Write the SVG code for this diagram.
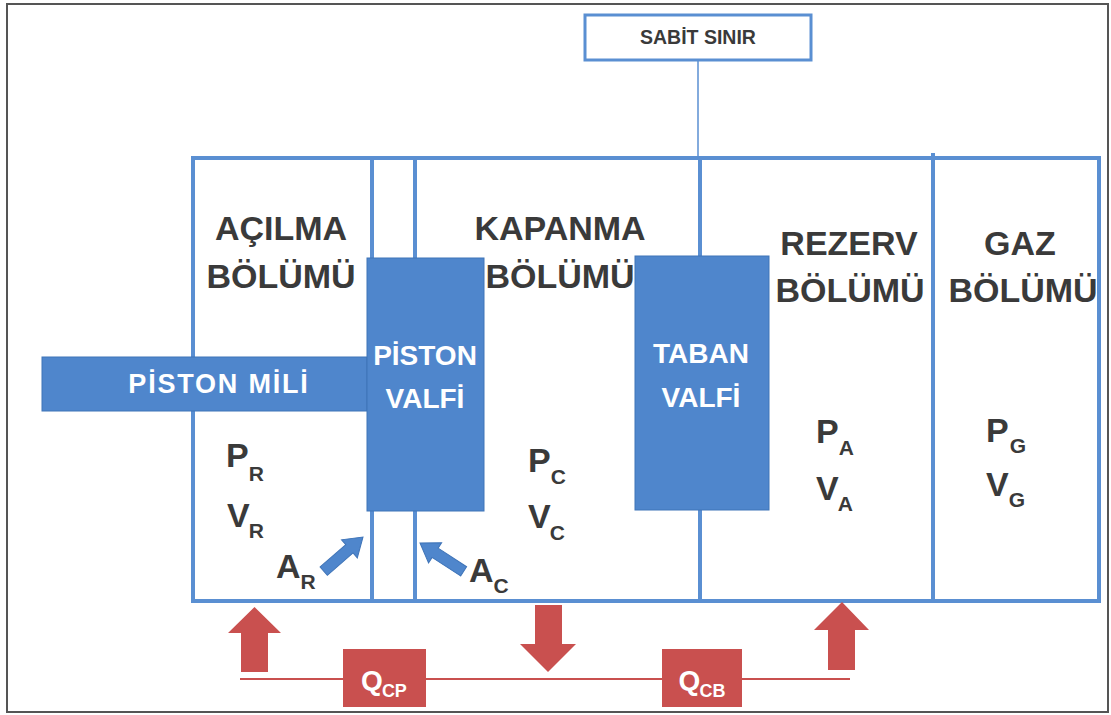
<svg xmlns="http://www.w3.org/2000/svg" width="1111" height="715" viewBox="0 0 1111 715">
  <style>
    .wall { fill: none; stroke: #5a8fd2; stroke-width: 4; }
    .solid { fill: #4f86cc; stroke: #3f74b8; stroke-width: 1; }
    .lbl { font-family: "Liberation Sans", Arial, sans-serif; font-weight: bold; fill: #3a3a3a; }
    .big { font-size: 34px; text-anchor: middle; }
    .var { font-size: 34px; }
    .sub { font-size: 21px; }
    .wht { font-family: "Liberation Sans", Arial, sans-serif; font-weight: bold; fill: #ffffff; text-anchor: middle; }
    .flow { fill: #c9504f; }
    .pipe { stroke: #c9504f; stroke-width: 2; fill: none; }
    .barrow { fill: #4f86cc; stroke: #3f74b8; stroke-width: 1; }
  </style>
  <defs>
    <!-- block arrow pointing along +x, tip at origin -->
    <polygon id="blockArrow" points="-52,-5.5 -18,-5.5 -18,-12 0,0 -18,12 -18,5.5 -52,5.5"/>
  </defs>

  <rect x="0" y="0" width="1111" height="715" fill="#ffffff"/>
  <!-- page frame -->
  <rect x="7" y="4" width="1101" height="708" fill="none" stroke="#555555" stroke-width="2"/>

  <!-- damper housing and chamber walls -->
  <g id="housing">
    <rect class="wall" x="193" y="158" width="906" height="443"/>
    <line class="wall" x1="372" y1="158" x2="372" y2="601"/>
    <line class="wall" x1="415" y1="158" x2="415" y2="601"/>
    <line class="wall" x1="700" y1="158" x2="700" y2="601"/>
    <line class="wall" x1="933" y1="153" x2="933" y2="601"/>
  </g>

  <!-- fixed boundary label -->
  <g id="sabit-sinir">
    <line x1="698" y1="61" x2="698" y2="158" stroke="#5a8fd2" stroke-width="1.5"/>
    <rect x="585" y="15" width="226" height="45" fill="#ffffff" stroke="#5a8fd2" stroke-width="3"/>
    <text class="lbl" x="698" y="44" font-size="19.5" text-anchor="middle">SABİT SINIR</text>
  </g>

  <!-- chamber titles -->
  <g id="acilma-bolumu">
    <text class="lbl big" x="281" y="240">AÇILMA</text>
    <text class="lbl big" x="281" y="288">BÖLÜMÜ</text>
  </g>
  <g id="kapanma-bolumu">
    <text class="lbl big" x="560" y="240">KAPANMA</text>
    <text class="lbl big" x="560" y="288">BÖLÜMÜ</text>
  </g>
  <g id="rezerv-bolumu">
    <text class="lbl big" x="849" y="255">REZERV</text>
    <text class="lbl big" x="850" y="302">BÖLÜMÜ</text>
  </g>
  <g id="gaz-bolumu">
    <text class="lbl big" x="1020" y="255">GAZ</text>
    <text class="lbl big" x="1023" y="302">BÖLÜMÜ</text>
  </g>

  <!-- piston rod -->
  <g id="piston-mili">
    <rect class="solid" x="42" y="357" width="325" height="54"/>
    <text class="wht" x="219" y="393" font-size="27" letter-spacing="1.8">PİSTON MİLİ</text>
  </g>

  <!-- piston valve -->
  <g id="piston-valfi">
    <rect class="solid" x="367" y="258" width="117" height="253"/>
    <text class="wht" x="425" y="365" font-size="28">PİSTON</text>
    <text class="wht" x="425" y="408" font-size="28">VALFİ</text>
  </g>

  <!-- base valve -->
  <g id="taban-valfi">
    <rect class="solid" x="635" y="256" width="134" height="254"/>
    <text class="wht" x="701" y="363" font-size="28">TABAN</text>
    <text class="wht" x="701" y="407" font-size="28">VALFİ</text>
  </g>

  <!-- state variables -->
  <g id="degiskenler">
    <text class="lbl var" x="226" y="467">P<tspan class="sub" dx="0" dy="14">R</tspan></text>
    <text class="lbl var" x="227" y="527">V<tspan class="sub" dx="-1" dy="11">R</tspan></text>
    <text class="lbl var" x="276" y="578">A<tspan class="sub" dx="0" dy="11">R</tspan></text>
    <text class="lbl var" x="528" y="472">P<tspan class="sub" dx="0" dy="12">C</tspan></text>
    <text class="lbl var" x="528" y="528">V<tspan class="sub" dx="-1" dy="12">C</tspan></text>
    <text class="lbl var" x="469" y="582">A<tspan class="sub" dx="0" dy="11">C</tspan></text>
    <text class="lbl var" x="816" y="443">P<tspan class="sub" dx="0" dy="12">A</tspan></text>
    <text class="lbl var" x="816" y="500">V<tspan class="sub" dx="-1" dy="11">A</tspan></text>
    <text class="lbl var" x="986" y="442">P<tspan class="sub" dx="1" dy="11">G</tspan></text>
    <text class="lbl var" x="986" y="496">V<tspan class="sub" dx="0" dy="11">G</tspan></text>
  </g>

  <!-- connectors: area pointers and flow arrows -->
  <g id="connectors">
    <use href="#blockArrow" class="barrow" transform="translate(363,537) rotate(-41)"/>
    <use href="#blockArrow" class="barrow" transform="translate(420,543) rotate(-147)"/>

    <line class="pipe" x1="240" y1="679" x2="343" y2="679"/>
    <line class="pipe" x1="426" y1="679" x2="662" y2="679"/>
    <line class="pipe" x1="742" y1="679" x2="850" y2="679"/>

    <polygon class="flow" points="241,672 241,633 228,633 254.5,607 281,633 268,633 268,672"/>
    <polygon class="flow" points="535,605 562,605 562,644 576,644 548,672 520,644 535,644"/>
    <polygon class="flow" points="828,670 828,630 814,630 842,602 869,630 855,630 855,670"/>
  </g>

  <!-- flow restrictions -->
  <g id="q-cp">
    <rect class="flow" x="343" y="649" width="83" height="58"/>
    <text class="wht" x="384" y="690" font-size="28" text-anchor="middle">Q<tspan font-size="18" dx="-1" dy="7">CP</tspan></text>
  </g>
  <g id="q-cb">
    <rect class="flow" x="662" y="649" width="80" height="58"/>
    <text class="wht" x="702" y="690" font-size="28" text-anchor="middle">Q<tspan font-size="18" dx="-1" dy="7">CB</tspan></text>
  </g>
</svg>
